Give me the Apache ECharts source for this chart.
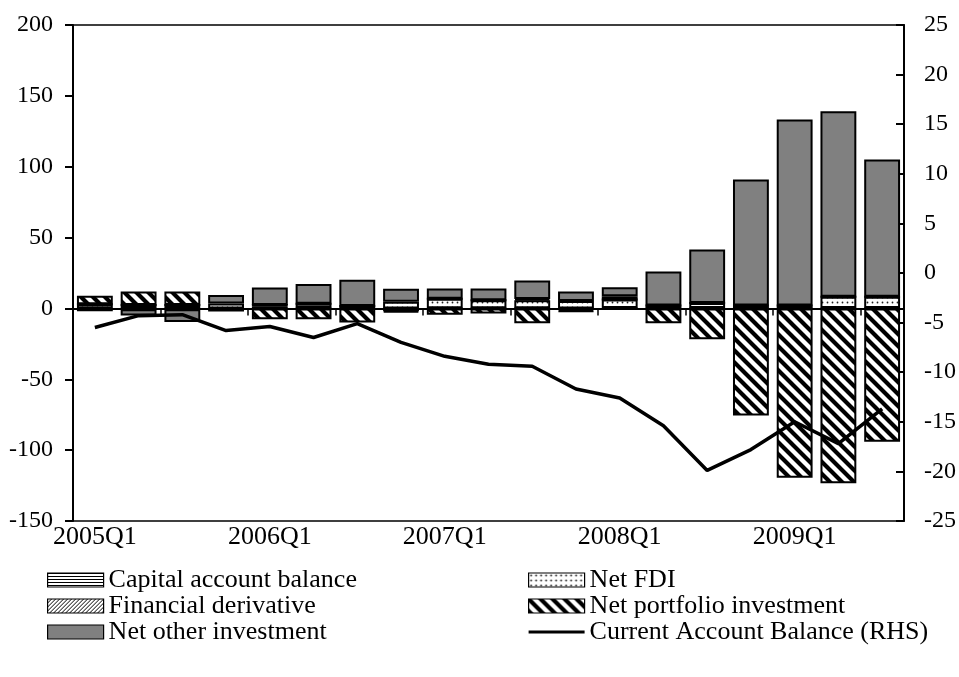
<!DOCTYPE html>
<html>
<head>
<meta charset="utf-8">
<script src="https://cdn.jsdelivr.net/npm/echarts@6/dist/echarts.min.js"></script>
<style>
  html, body { margin: 0; padding: 0; background: #fff; }
  #myChart { width: 959px; height: 677px; }
</style>
</head>
<body>
<div id="myChart"></div>
<script>
// quarters on the x axis
var quarters = ['2005Q1','2005Q2','2005Q3','2005Q4','2006Q1','2006Q2','2006Q3','2006Q4',
  '2007Q1','2007Q2','2007Q3','2007Q4','2008Q1','2008Q2','2008Q3','2008Q4','2009Q1','2009Q2','2009Q3'];

// left axis (stacked bars)
var capitalAccount = [-0.5, -0.5, -0.5, -0.5, 1.5, 0.3, 0.3, -0.5, 0.2, 0.2, 0.2, -0.5, 0.3, 0.3, 0.3, 0.3, 0.3, 0.3, 0.3];
var netFDI = [3, 2.5, 2.5, 3.5, 1, 3, 1.5, 4.8, 6.7, 5.5, 5.5, 5.3, 6, 1.8, 3.6, 1.8, 1.8, 7.9, 7.9];
var finDerivative = [0, 0, 0, -1, 0, 0, 0, -1.5, 0, 0, 1, -1.2, 0, 0, 0, 0, 0, 0, 0];
var netPortfolio = [6, 9.5, 9.5, 0, -7.7, -7.7, -10, -0.8, -4.5, -3.5, -10.5, -0.5, 2.3, -10.5, -21.7, -75.6, -119.4, -123.4, -94];
var netOther = [-1.5, -4.5, -9, 6, 12.2, 14, 18.5, 9, 7.1, 8.3, 13, 6.6, 6.4, 24, 37.7, 88.9, 131.2, 131, 96.9];

// right axis (line)
var currentAccount = [-5.5, -4.3, -4.2, -5.8, -5.4, -6.5, -5.1, -7.0, -8.4, -9.2, -9.4, -11.7, -12.6, -15.4, -19.9, -17.8, -15.0, -17.2, -13.7];

var FONT = 'Liberation Serif';

// little tiles used as fill patterns
function makePattern(w, h, draw) {
  var c = document.createElement('canvas');
  c.width = w; c.height = h;
  var ctx = c.getContext('2d');
  ctx.fillStyle = '#fff';
  ctx.fillRect(0, 0, w, h);
  ctx.fillStyle = '#000';
  ctx.strokeStyle = '#000';
  draw(ctx, w, h);
  return { image: c, repeat: 'repeat' };
}
var hLines = makePattern(4, 3, function (ctx, w) { ctx.fillRect(0, 0, w, 1); });
var dots = makePattern(5, 5, function (ctx) {
  ctx.fillStyle = '#222';
  ctx.beginPath(); ctx.arc(2.5, 2.5, 0.9, 0, Math.PI * 2); ctx.fill();
});
var fineDiag = makePattern(4, 4, function (ctx) {
  ctx.lineWidth = 1;
  ctx.beginPath();
  ctx.moveTo(-1, 5); ctx.lineTo(5, -1);
  ctx.moveTo(-1, 1); ctx.lineTo(1, -1);
  ctx.moveTo(3, 5); ctx.lineTo(5, 3);
  ctx.stroke();
});
var thickDiag = makePattern(12, 12, function (ctx) {
  ctx.lineWidth = 4.2;
  ctx.beginPath();
  ctx.moveTo(-2, -2); ctx.lineTo(14, 14);
  ctx.moveTo(-8, 4); ctx.lineTo(8, 20);
  ctx.moveTo(4, -8); ctx.lineTo(20, 8);
  ctx.stroke();
});

function barSeries(name, data, fill) {
  return {
    name: name,
    type: 'bar',
    stack: 'flows',
    xAxisIndex: 0,
    yAxisIndex: 0,
    barWidth: '82%',
    data: data,
    itemStyle: { color: fill, borderColor: '#000', borderWidth: 2 },
    emphasis: { disabled: true }
  };
}

var legendText = { fontFamily: FONT, fontSize: 26, color: '#000' };
var lineIcon = 'path://M0,0H56V3.2H0Z';

var myChart = echarts.init(document.getElementById('myChart'));
var option = {
  backgroundColor: '#fff',
  animation: false,
  textStyle: { fontFamily: FONT, color: '#000' },
  grid: {
    left: 73, right: 55, top: 25, bottom: 156,
    show: true, borderColor: '#000', borderWidth: 1.5, backgroundColor: 'transparent'
  },
  legend: [{
    orient: 'vertical',
    left: 42, top: 562,
    icon: 'rect',
    itemWidth: 56, itemHeight: 14, itemGap: 0,
    itemStyle: { borderWidth: 1.2 },
    textStyle: legendText,
    data: ['Capital account balance', 'Financial derivative', 'Net other investment']
  }, {
    orient: 'vertical',
    left: 523, top: 562,
    icon: 'rect',
    itemWidth: 56, itemHeight: 14, itemGap: 0,
    itemStyle: { borderWidth: 1.2 },
    textStyle: legendText,
    data: ['Net FDI', 'Net portfolio investment',
      { name: 'Current Account Balance (RHS)', icon: lineIcon, itemStyle: { color: '#000', borderWidth: 0 } }]
  }],
  xAxis: [{
    type: 'category',
    data: quarters,
    axisLine: { onZero: true, onZeroAxisIndex: 0, lineStyle: { color: '#000', width: 2 } },
    axisTick: { show: true, length: 7, lineStyle: { color: '#000', width: 1.5 } },
    axisLabel: { show: false },
    splitLine: { show: false }
  }, {
    type: 'category',
    data: quarters,
    position: 'bottom',
    axisLine: { show: false, onZero: false },
    axisTick: { show: false },
    axisLabel: { interval: 3, margin: 3, fontFamily: FONT, fontSize: 26, color: '#000' }
  }],
  yAxis: [{
    type: 'value',
    min: -150, max: 200, interval: 50,
    axisLine: { show: true, lineStyle: { color: '#000', width: 2 } },
    axisTick: { show: true, length: 8, lineStyle: { color: '#000', width: 2 } },
    axisLabel: { margin: 20, fontFamily: FONT, fontSize: 24, color: '#000' },
    splitLine: { show: false }
  }, {
    type: 'value',
    position: 'right',
    min: -25, max: 25, interval: 5,
    axisLine: { show: true, lineStyle: { color: '#000', width: 2 } },
    axisTick: { show: true, inside: true, length: 8, lineStyle: { color: '#000', width: 2 } },
    axisLabel: { margin: 20, fontFamily: FONT, fontSize: 24, color: '#000' },
    splitLine: { show: false }
  }],
  series: [
    barSeries('Capital account balance', capitalAccount, hLines),
    barSeries('Net FDI', netFDI, dots),
    barSeries('Financial derivative', finDerivative, fineDiag),
    barSeries('Net portfolio investment', netPortfolio, thickDiag),
    barSeries('Net other investment', netOther, '#808080'),
    {
      name: 'Current Account Balance (RHS)',
      type: 'line',
      xAxisIndex: 0,
      yAxisIndex: 1,
      data: currentAccount,
      symbol: 'none',
      z: 5,
      lineStyle: { color: '#000', width: 3.5 },
      itemStyle: { color: '#000' },
      emphasis: { disabled: true }
    }
  ]
};
myChart.setOption(option);
</script>
</body>
</html>
